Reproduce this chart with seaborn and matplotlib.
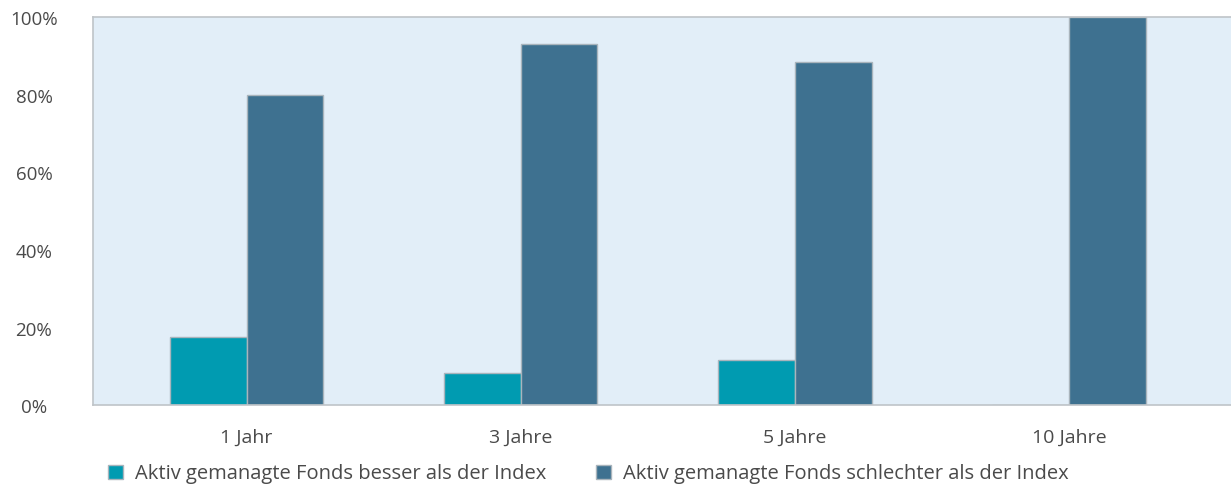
import matplotlib
matplotlib.use("Agg")
import matplotlib.pyplot as plt
import matplotlib.transforms as mtransforms
import seaborn as sns
import pandas as pd

categories = ["1 Jahr", "3 Jahre", "5 Jahre", "10 Jahre"]
series_names = ["Aktiv gemanagte Fonds besser als der Index",
                "Aktiv gemanagte Fonds schlechter als der Index"]
besser = [17.5, 8.2, 11.6, 0]
schlechter = [79.8, 93.0, 88.4, 100]
ytick_values = [0, 20, 40, 60, 80, 100]
ytick_labels = ["0%", "20%", "40%", "60%", "80%", "100%"]

df = pd.DataFrame({
    "cat": categories * 2,
    "val": besser + schlechter,
    "serie": [series_names[0]] * 4 + [series_names[1]] * 4,
})

sns.set_theme(style="white")
plt.rcParams["font.family"] = ["Open Sans", "DejaVu Sans"]

fig = plt.figure(figsize=(12.31, 4.84), dpi=100)
ax = fig.add_axes([93 / 1231, 79 / 484, 1 - 93 / 1231 + 0.002, 388 / 484])
ax.set_facecolor("#E2EEF8")

sns.barplot(data=df, x="cat", y="val", hue="serie", order=categories,
            hue_order=series_names, palette=["#009BB1", "#3E7190"],
            width=0.56, edgecolor="#A9B4BC", linewidth=1.0, ax=ax,
            saturation=1)

ax.set_xlim(-0.56, 3.60)
ax.set_ylim(0, 100)
ax.set_yticks(ytick_values)
ax.set_yticklabels([])
ax.tick_params(axis="both", length=0)

trans = mtransforms.blended_transform_factory(fig.transFigure, ax.transData)
for v, lab in zip(ytick_values, ytick_labels):
    ax.text(34 / 1231, v - 0.8, lab, transform=trans, ha="center", va="center",
            fontsize=13.5, color="#4a4a4a", clip_on=False)

ax.set_xticks(range(len(categories)))
ax.set_xticklabels(categories, fontsize=14, color="#4a4a4a")
ax.tick_params(axis="x", pad=17)
ax.set_xlabel("")
ax.set_ylabel("")

for s in ["left", "top", "bottom"]:
    ax.spines[s].set_color("#BFC4C8")
    ax.spines[s].set_linewidth(1.2)
ax.spines["right"].set_visible(False)

handles, labels = ax.get_legend_handles_labels()
ax.get_legend().remove()
fig.legend(handles, labels, loc="center left", bbox_to_anchor=(100 / 1231, 1 - 474 / 484),
           ncol=2, frameon=False, fontsize=14.5, handlelength=0.75, handleheight=0.75,
           handletextpad=0.6, columnspacing=2.45, labelcolor="#4a4a4a", borderaxespad=0)

fig.savefig("out.png", dpi=100)
